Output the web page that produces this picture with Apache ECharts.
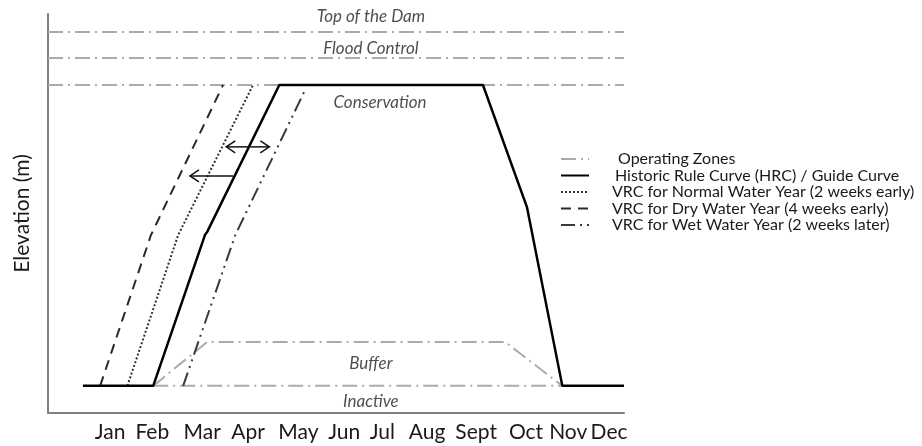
<!DOCTYPE html>
<html>
<head>
<meta charset="utf-8">
<script src="https://cdn.jsdelivr.net/npm/echarts@6/dist/echarts.min.js"></script>
<style>
html,body{margin:0;padding:0;background:#fff;}
#c{width:922px;height:446px;}
</style>
</head>
<body>
<div id="c"></div>
<script>
// ---- data (x in months: Jan label = 1, Dec label = 12; y = relative elevation 0..100) ----
const months = ['Jan','Feb','Mar','Apr','May','Jun','Jul','Aug','Sept','Oct','Nov','Dec'];
const monthPos = [1.0, 1.93, 3.03, 4.04, 5.15, 6.16, 7.0, 7.99, 9.07, 10.17, 11.10, 12.0];
const xRange = [-0.37, 12.33];

const zoneNames = ['Top of the Dam', 'Flood Control', 'Conservation', 'Buffer', 'Inactive'];
const zoneLabelX = [6.75, 6.75, 6.95, 6.75, 6.75];
const zoneLabelY = [99.3, 91.3, 77.7, 12.3, 2.8];

const damLevel = 95.5;
const floodLevel = 89.0;
const conservationLevel = 82.2;
const bufferX = [1.95, 3.14, 9.71, 10.97];
const bufferY = [6.8, 17.8, 17.8, 6.8];
const inactiveX = [1.95, 10.97];
const inactiveY = [6.8, 6.8];

const hrcX = [0.40, 1.95, 3.09, 3.14, 4.73, 9.22, 10.19, 10.97, 12.33];
const hrcY = [6.8, 6.8, 44.6, 45.4, 82.2, 82.2, 51.6, 6.8, 6.8];
const normalX = [1.38, 2.50, 4.15];
const normalY = [6.8, 44.6, 82.2];
const dryX = [0.78, 1.90, 3.49];
const dryY = [6.8, 44.6, 82.2];
const wetX = [2.61, 3.76, 5.30];
const wetY = [6.8, 44.6, 81.0];

const arrowFrom = [4.09, 4.09, 3.71];
const arrowTo = [3.56, 4.51, 2.76];
const arrowY = [66.7, 66.7, 59.4];

const seriesNames = [
  'Operating Zones',
  'Historic Rule Curve (HRC) / Guide Curve',
  'VRC for Normal Water Year (2 weeks early)',
  'VRC for Dry Water Year (4 weeks early)',
  'VRC for Wet Water Year (2 weeks later)'
];

// ---- build ----
const zip = (xs, ys) => xs.map((x, i) => [x, ys[i]]);
const FONT = 'Lato';
const zoneStyle = { color: '#ababab', width: 2, type: [15, 5, 2, 5] };
const legendTextIndent = [24, 21, 18, 18, 18];

function zoneSeries(data) {
  return { name: seriesNames[0], type: 'line', data, symbol: 'none', silent: true,
    lineStyle: zoneStyle, itemStyle: { color: '#ababab' }, z: 2 };
}

const chart = echarts.init(document.getElementById('c'), null, { renderer: 'canvas' });
chart.setOption({
  animation: false,
  backgroundColor: '#fff',
  grid: { left: 48, right: 298, top: 14, bottom: 33, containLabel: false },
  xAxis: {
    type: 'value', min: xRange[0], max: xRange[1],
    axisLine: { show: true, onZero: false, lineStyle: { color: '#808080', width: 2 } },
    axisTick: { show: false },
    splitLine: { show: false },
    axisLabel: {
      customValues: monthPos,
      margin: 9,
      color: '#1a1a1a', fontFamily: FONT, fontSize: 21,
      formatter: v => { const i = monthPos.indexOf(v); return i >= 0 ? months[i] : ''; }
    }
  },
  yAxis: {
    type: 'value', min: 0, max: 100,
    name: 'Elevation (m)', nameLocation: 'middle', nameGap: 15,
    nameTextStyle: { color: '#1a1a1a', fontFamily: FONT, fontSize: 21 },
    axisLine: { show: true, onZero: false, lineStyle: { color: '#808080', width: 2 } },
    axisTick: { show: false }, axisLabel: { show: false }, splitLine: { show: false }
  },
  legend: {
    orient: 'vertical', left: 555, top: 146,
    itemWidth: 28, itemHeight: 14, itemGap: 0.5,
    data: seriesNames.map((n, i) => ({ name: n, textStyle: { padding: [0, 0, 0, legendTextIndent[i]] } })),
    itemStyle: { opacity: 0 },
    textStyle: { fontFamily: FONT, fontSize: 16, lineHeight: 14, color: '#1a1a1a' },
    selectedMode: false
  },
  series: [
    zoneSeries([[xRange[0], damLevel], [xRange[1], damLevel]]),
    zoneSeries([[xRange[0], floodLevel], [xRange[1], floodLevel]]),
    zoneSeries([[xRange[0], conservationLevel], [xRange[1], conservationLevel]]),
    zoneSeries(zip(bufferX, bufferY)),
    zoneSeries(zip(inactiveX, inactiveY)),
    { name: seriesNames[2], type: 'line', data: zip(normalX, normalY), symbol: 'none', z: 3,
      lineStyle: { color: '#333', width: 2, type: [2, 2] }, itemStyle: { color: '#333' } },
    { name: seriesNames[3], type: 'line', data: zip(dryX, dryY), symbol: 'none', z: 3,
      lineStyle: { color: '#2a2a2a', width: 2, type: [10, 7] }, itemStyle: { color: '#2a2a2a' } },
    { name: seriesNames[4], type: 'line', data: zip(wetX, wetY), symbol: 'none', z: 3,
      lineStyle: { color: '#3a3a3a', width: 2, type: [14, 5, 2, 5, 2, 5] }, itemStyle: { color: '#3a3a3a' } },
    { name: seriesNames[1], type: 'line', data: zip(hrcX, hrcY), symbol: 'none', z: 4,
      lineStyle: { color: '#000', width: 2.5, type: 'solid' }, itemStyle: { color: '#000' } },
    {
      type: 'custom', z: 5, silent: true,
      data: arrowFrom.map((x, i) => [x, arrowY[i], arrowTo[i]]),
      encode: { x: [0, 2], y: 1 },
      renderItem: (params, api) => {
        const y = api.value(1);
        const a = api.coord([api.value(0), y]);
        const b = api.coord([api.value(2), y]);
        const d = Math.sign(b[0] - a[0]);
        const L = 9, H = 6;
        return { type: 'group', children: [
          { type: 'line', shape: { x1: a[0], y1: a[1], x2: b[0], y2: b[1] },
            style: { stroke: '#111', lineWidth: 1.5 } },
          { type: 'polyline', shape: { points: [[b[0] - d * L, b[1] - H], [b[0], b[1]], [b[0] - d * L, b[1] + H]] },
            style: { stroke: '#111', lineWidth: 1.5, fill: null } }
        ] };
      }
    },
    {
      type: 'scatter', symbolSize: 0, silent: true, z: 6,
      data: zoneNames.map((n, i) => ({ name: n, value: [zoneLabelX[i], zoneLabelY[i]] })),
      label: { show: true, position: 'inside', formatter: '{b}',
        fontFamily: FONT, fontStyle: 'italic', fontSize: 17, color: '#222' }
    }
  ]
});
</script>
</body>
</html>
